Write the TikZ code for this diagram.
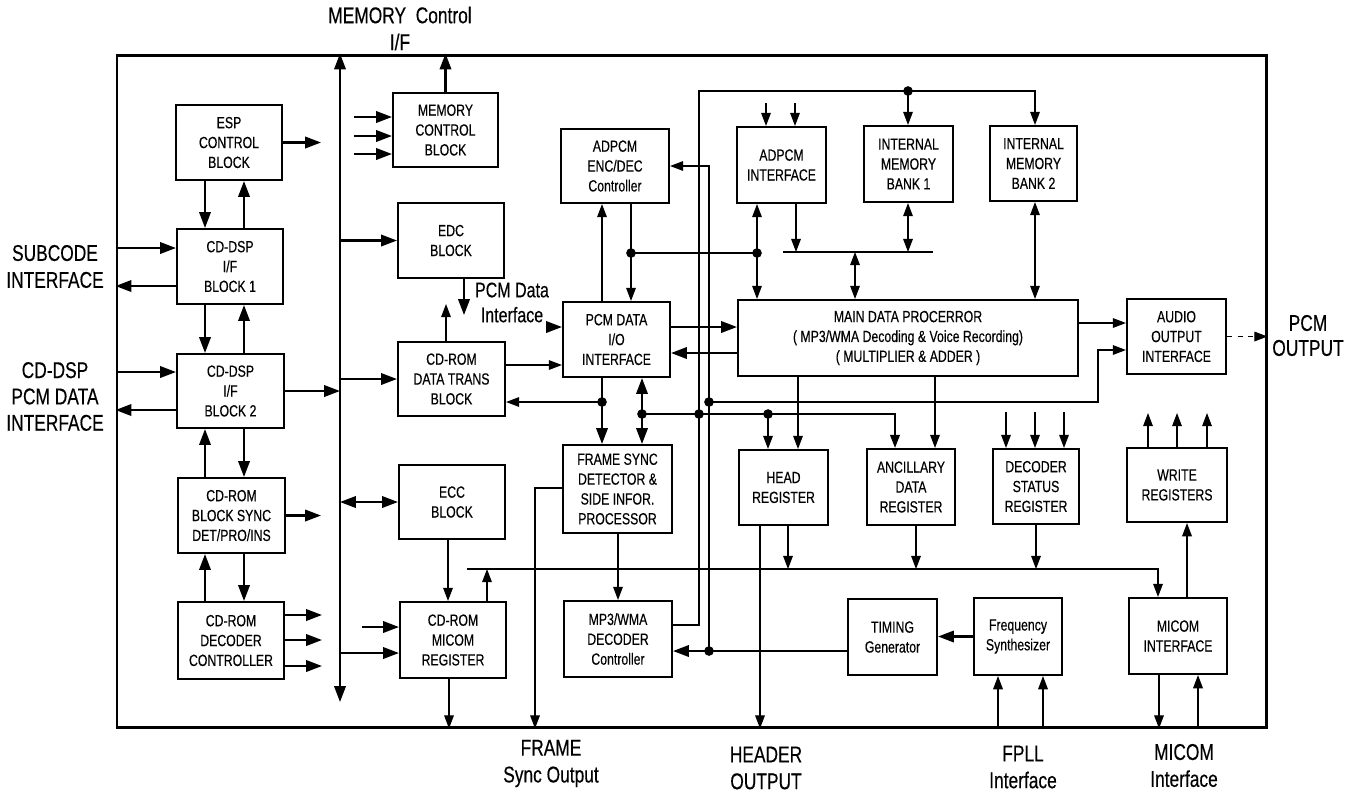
\documentclass[tikz,border=0pt]{standalone}
\usepackage{fontspec}
\setmainfont{Liberation Sans}[FakeStretch=0.76,FakeBold=0.35]
\usetikzlibrary{arrows.meta,calc}
\newcommand{\mybox}[6]{\node[box, minimum width={(#4-#2)*0.02cm}, minimum height={(#5-#3)*0.02cm}] (#1) at ({(#2+#4)/2},{(#3+#5)/2}) {#6};}
\begin{document}
\begin{tikzpicture}[x=0.02cm,y=-0.02cm,
  box/.style={draw, line width=1.2pt, align=center, inner sep=0pt, font=\fontsize{9.2}{11.3}\selectfont},
  lbl/.style={align=center, inner sep=0pt, font=\fontsize{13}{15.3}\selectfont},
  wire/.style={line width=0.7pt},
  fat/.style={line width=1.2pt},
  arr/.style={-{Triangle[length=7.5pt,width=5.5pt]}},
  darr/.style={{Triangle[length=7.5pt,width=5.5pt]}-{Triangle[length=7.5pt,width=5.5pt]}},
  farr/.style={line width=1.2pt,-{Triangle[length=9pt,width=6.5pt]}},
  fdarr/.style={line width=1.2pt,{Triangle[length=9pt,width=6.5pt]}-{Triangle[length=9pt,width=6.5pt]}},
  jn/.style={circle, fill, inner sep=0pt, minimum size=5.5pt}]
\useasboundingbox (0,0) rectangle (1354,796);
% frame
\node[draw, line width=1.7pt, inner sep=0pt, minimum width={1149*0.02cm}, minimum height={672*0.02cm}] (frame) at (691.5,391) {};
% boxes
\mybox{esp}{176}{105}{282}{180}{ESP\\CONTROL\\BLOCK}
\mybox{dsp1}{177}{229}{283}{304}{CD-DSP\\I/F\\BLOCK 1}
\mybox{dsp2}{177}{354}{284}{428}{CD-DSP\\I/F\\BLOCK 2}
\mybox{sync}{178}{478}{285}{553}{CD-ROM\\BLOCK SYNC\\DET/PRO/INS}
\mybox{decctl}{178}{602}{284}{679}{CD-ROM\\DECODER\\CONTROLLER}
\mybox{memctl}{393}{93}{498}{167}{MEMORY\\CONTROL\\BLOCK}
\mybox{edc}{398}{203}{504}{278}{EDC\\BLOCK}
\mybox{dtrans}{398}{342}{505}{416}{CD-ROM\\DATA TRANS\\BLOCK}
\mybox{ecc}{399}{465}{505}{539}{ECC\\BLOCK}
\mybox{micomreg}{400}{602}{506}{678}{CD-ROM\\MICOM\\REGISTER}
\mybox{adenc}{561}{129}{669}{203}{ADPCM\\ENC/DEC\\Controller}
\mybox{pcmio}{563}{302}{670}{377}{PCM DATA\\I/O\\INTERFACE}
\mybox{fsync}{563}{445}{672}{533}{FRAME SYNC\\DETECTOR \&\\SIDE INFOR.\\PROCESSOR}
\mybox{mp3}{564}{601}{672}{677}{MP3/WMA\\DECODER\\Controller}
\mybox{adint}{737}{127}{826}{203}{ADPCM\\INTERFACE}
\mybox{bank1}{864}{126}{953}{202}{INTERNAL\\MEMORY\\BANK 1}
\mybox{bank2}{990}{126}{1077}{201}{INTERNAL\\MEMORY\\BANK 2}
\mybox{main}{738}{300}{1078}{376}{MAIN DATA PROCERROR\\( MP3/WMA Decoding \& Voice Recording)\\( MULTIPLIER \& ADDER )}
\mybox{audio}{1127}{299}{1226}{374}{AUDIO\\OUTPUT\\INTERFACE}
\mybox{head}{739}{450}{828}{525}{HEAD\\REGISTER}
\mybox{anc}{867}{449}{955}{525}{ANCILLARY\\DATA\\REGISTER}
\mybox{dstat}{993}{449}{1079}{524}{DECODER\\STATUS\\REGISTER}
\mybox{write}{1127}{448}{1227}{522}{WRITE\\REGISTERS}
\mybox{timing}{848}{599}{937}{675}{TIMING\\Generator}
\mybox{freq}{974}{598}{1062}{675}{Frequency\\Synthesizer}
\mybox{micomif}{1129}{598}{1227}{674}{MICOM\\INTERFACE}
% outside labels
\node[lbl] (lmem) at (400,28.5) {MEMORY\ \ Control\\I/F};
\node[lbl] (lsub) at (55,266.5) {SUBCODE\\INTERFACE};
\node[lbl, font=\fontsize{13}{15}\selectfont] (lcd) at (55,396.5) {CD-DSP\\PCM DATA\\INTERFACE};
\node[lbl, font=\fontsize{12}{14.2}\selectfont] (lpcmd) at (512,302.5) {PCM Data\\Interface};
\node[lbl, font=\fontsize{13}{14.2}\selectfont] (lpcmo) at (1308,335.5) {PCM\\OUTPUT};
\node[lbl] (lfr) at (551,763.5) {FRAME\\Sync Output};
\node[lbl] (lhd) at (766,768) {HEADER\\OUTPUT};
\node[lbl] (lfp) at (1023,767) {FPLL\\Interface};
\node[lbl] (lmi) at (1184,765.5) {MICOM\\Interface};
% helper coordinates
\foreach \v in {205,244,446,448,449,464,487,535,602,618,631,642,699,709,757,760,766,768,788,795,796,798,855,895,908,916,935,998,1006,1035,1036,1043,1064,1098,1148,1158,1159,1177,1187,1198,1207}
  {\coordinate (v\v) at (\v,0);}
\foreach \h in {91,103,117,136,154,166,248,252,253,286,323,327,350,353,365,372,402,410,412,413,414,488,569,615,625,627,640,651,653,666}
  {\coordinate (h\h) at (0,\h);}
\coordinate (busB) at (340,702);
\coordinate (espo) at (321,142.5);
\coordinate (synco) at (321,515.5);
\coordinate (dco) at (322,0);
\coordinate (mmi) at (354,0);
\coordinate (mr1) at (362,627);
\coordinate (edcd) at (464,315);
\coordinate (dtu) at (446,304);
\coordinate (bl) at (467,569);
\coordinate (ifa) at (546,327);
\coordinate (sb1) at (783,252);
\coordinate (sb2) at (933,252);
% main bus
\draw[fdarr] (busB) -- (busB |- frame.north);
\draw[farr] (busB |- edc.west) -- (edc.west);
\draw[farr] (busB |- dtrans.west) -- (dtrans.west);
\draw[fdarr] (busB |- ecc.west) -- (ecc.west);
\draw[farr] (busB |- h653) -- (micomreg.west |- h653);
\draw[farr] (mr1) -- (mr1 -| micomreg.west);
\draw[farr] (dsp2.east) -- (dsp2.east -| busB);
\draw[farr] (esp.east) -- (espo);
\draw[farr] (sync.east) -- (synco);
\foreach \h in {615,640,666} {\draw[farr] (decctl.east |- h\h) -- (dco |- h\h);}
% memory control
\draw[farr] (memctl.north) -- (memctl.north |- frame.north);
\foreach \h in {117,136,154} {\draw[farr] (mmi |- h\h) -- (memctl.west |- h\h);}
% external left interfaces
\draw[farr] (frame.west |- h248) -- (dsp1.west |- h248);
\draw[farr] (dsp1.west |- h286) -- (frame.west |- h286);
\draw[farr] (frame.west |- h372) -- (dsp2.west |- h372);
\draw[farr] (dsp2.west |- h410) -- (frame.west |- h410);
% left column verticals
\draw[farr] (esp.south -| v205) -- (dsp1.north -| v205);
\draw[farr] (dsp1.north -| v244) -- (esp.south -| v244);
\draw[farr] (dsp1.south -| v205) -- (dsp2.north -| v205);
\draw[farr] (dsp2.north -| v244) -- (dsp1.south -| v244);
\draw[farr] (sync.north -| v205) -- (dsp2.south -| v205);
\draw[farr] (dsp2.south -| v244) -- (sync.north -| v244);
\draw[farr] (decctl.north -| v205) -- (sync.south -| v205);
\draw[farr] (sync.south -| v244) -- (decctl.north -| v244);
% second column
\draw[farr] (edcd |- edc.south) -- (edcd);
\draw[wire,arr] (dtu |- dtrans.north) -- (dtu);
\draw[wire,arr] (ecc.south -| v448) -- (micomreg.north -| v448);
\draw[wire,arr] (micomreg.north -| v487) -- (v487 |- h569);
\draw[wire,arr] (micomreg.south -| v449) -- (v449 |- frame.south);
% long line y 569
\draw[wire,arr] (bl) -- (v1158 |- bl) -- (micomif.north -| v1158);
\draw[wire,arr] (head.south -| v788) -- (v788 |- h569);
\draw[wire,arr] (anc.south -| v916) -- (v916 |- h569);
\draw[wire,arr] (dstat.south -| v1036) -- (v1036 |- h569);
\draw[wire,arr] (head.south -| v760) -- (v760 |- frame.south);
% PCM data I/O
\draw[wire,arr] (dtrans.east |- h365) -- (pcmio.west |- h365);
\draw[farr] (ifa) -- (ifa -| pcmio.west);
\draw[farr] (pcmio.east |- h327) -- (main.west |- h327);
\draw[farr] (main.west |- h353) -- (pcmio.east |- h353);
\draw[wire,arr] (pcmio.north -| v602) -- (adenc.south -| v602);
\draw[wire,arr] (adenc.south -| v631) -- (pcmio.north -| v631);
\draw[wire] (v631 |- h253) -- (v757 |- h253);
\draw[wire,darr] (adint.south -| v757) -- (main.north -| v757);
\draw[farr] (pcmio.south -| v602) -- (fsync.north -| v602);
\draw[wire,arr] (v602 |- h402) -- (dtrans.east |- h402);
\draw[fdarr] (pcmio.south -| v642) -- (fsync.north -| v642);
\draw[fat,arr] (v642 |- h414) -- (v895 |- h414) -- (anc.north -| v895);
\draw[wire,arr] (v768 |- h414) -- (head.north -| v768);
\draw[wire,arr] (main.south -| v798) -- (head.north -| v798);
\draw[wire,arr] (main.south -| v935) -- (anc.north -| v935);
% audio output
\draw[wire,arr] (main.east |- h323) -- (audio.west |- h323);
\draw[wire,arr] (v709 |- h402) -- (v1098 |- h402) -- (v1098 |- h350) -- (audio.west |- h350);
\draw[wire,dashed,arr] (audio.east) -- (audio.east -| frame.east);
% memory banks
\draw[wire,darr] (bank2.south -| v1035) -- (main.north -| v1035);
\draw[wire,arr] (mp3.east |- h625) -- (v699 |- h625) -- (v699 |- h91) -- (v1035 |- h91) -- (bank2.north -| v1035);
\draw[wire,arr] (v908 |- h91) -- (bank1.north -| v908);
\draw[wire,arr] (v766 |- h103) -- (adint.north -| v766);
\draw[wire,arr] (v795 |- h103) -- (adint.north -| v795);
\draw[wire,arr] (adint.south -| v796) -- (v796 |- h252);
\draw[wire] (sb1) -- (sb2);
\draw[wire,darr] (bank1.south -| v908) -- (v908 |- h252);
\draw[wire,darr] (v855 |- h252) -- (main.north -| v855);
% vertical 709
\draw[wire,arr] (v709 |- h651) -- (v709 |- h166) -- (adenc.east |- h166);
\draw[farr] (timing.west |- h651) -- (mp3.east |- h651);
\draw[farr] (freq.west) -- (freq.west -| timing.east);
\draw[wire,arr] (v998 |- frame.south) -- (freq.south -| v998);
\draw[wire,arr] (v1043 |- frame.south) -- (freq.south -| v1043);
% frame sync
\draw[wire,arr] (fsync.south -| v618) -- (mp3.north -| v618);
\draw[wire,arr] (fsync.west |- h488) -- (v535 |- h488) -- (v535 |- frame.south);
% decoder status, write registers, micom
\foreach \v in {1006,1035,1064} {\draw[wire,arr] (v\v |- h412) -- (dstat.north -| v\v);}
\foreach \v in {1148,1177,1207} {\draw[wire,arr] (write.north -| v\v) -- (v\v |- h413);}
\draw[wire,arr] (micomif.north -| v1187) -- (write.south -| v1187);
\draw[wire,arr] (micomif.south -| v1159) -- (v1159 |- frame.south);
\draw[wire,arr] (v1198 |- frame.south) -- (micomif.south -| v1198);
% junction dots
\foreach \p in {{631,253},{757,253},{908,91},{602,402},{642,414},{699,414},{768,414},{709,402},{709,651}}
  {\node[jn] at (\p) {};}
\end{tikzpicture}
\end{document}
